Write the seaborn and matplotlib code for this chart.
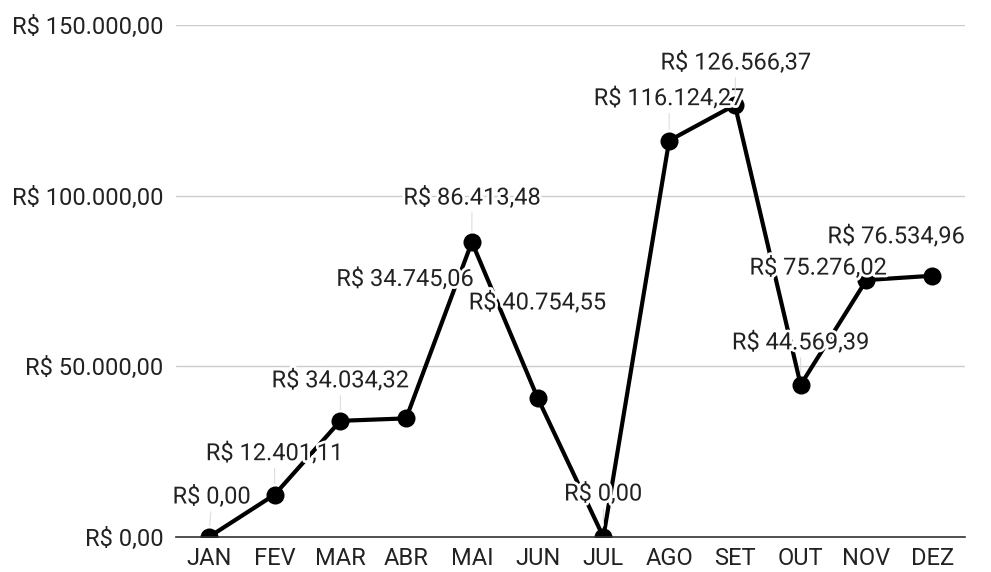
import matplotlib
matplotlib.use("Agg")
import matplotlib.pyplot as plt
import matplotlib.patheffects as pe
import seaborn as sns
import pandas as pd

# monthly values (R$)
meses = ["JAN", "FEV", "MAR", "ABR", "MAI", "JUN", "JUL", "AGO", "SET", "OUT", "NOV", "DEZ"]
valores = [0.00, 12401.11, 34034.32, 34745.06, 86413.48, 40754.55, 0.00,
           116124.27, 126566.37, 44569.39, 75276.02, 76534.96]
y_ticks = [0, 50000, 100000, 150000]

# label offsets in pixels (dx, dy) from each point, and whether a leader line is drawn
label_offsets = [(3, 40), (0, 41), (0, 40), (-1, 139), (0, 44), (0, 95),
                 (0, 43), (0, 42), (1, 42), (0, 42), (-48, 12), (-36, 39)]
leader = [True, True, True, False, True, False, True, True, True, True, False, False]


def brl(v):
    s = f"{v:,.2f}".replace(",", "X").replace(".", ",").replace("X", ".")
    return "R$ " + s


df = pd.DataFrame({"mes": meses, "valor": valores})

sns.set_style("white")
plt.rcParams["font.family"] = ["Roboto", "DejaVu Sans"]

fig = plt.figure(figsize=(9.91, 5.72), dpi=100)
ax = fig.add_axes([0.1776, 0.0612, 0.7962, 0.8951])

sns.lineplot(data=df, x="mes", y="valor", sort=False, color="black",
             linewidth=3, marker="o", markersize=13, markeredgewidth=0, ax=ax)

ax.set_xlim(-0.5, 11.5)
ax.set_ylim(0, 150000)
ax.set_yticks(y_ticks)
ax.set_yticklabels([brl(v) for v in y_ticks])
ax.yaxis.grid(True, color="#cccccc", linewidth=1)
ax.set_axisbelow(True)
ax.tick_params(axis="both", length=0, labelsize=17, colors="#222222")
ax.tick_params(axis="y", pad=9)
ax.tick_params(axis="x", pad=7)
ax.set_xlabel("")
ax.set_ylabel("")
for s in ["top", "right", "left"]:
    ax.spines[s].set_visible(False)
ax.spines["bottom"].set_color("#333333")
ax.spines["bottom"].set_linewidth(1.2)

halo = [pe.withStroke(linewidth=4, foreground="white")]
for i, (v, (dx, dy), ld) in enumerate(zip(valores, label_offsets, leader)):
    arrow = dict(arrowstyle="-", color="#dddddd", lw=0.8, shrinkA=0, shrinkB=8) if ld else None
    ax.annotate(brl(v), xy=(i, v), xytext=(dx, dy), textcoords="offset pixels",
                ha="center", va="center", fontsize=17, color="#222222",
                path_effects=halo, arrowprops=arrow,
                annotation_clip=False, zorder=5)

plt.savefig("out.png", dpi=100)
